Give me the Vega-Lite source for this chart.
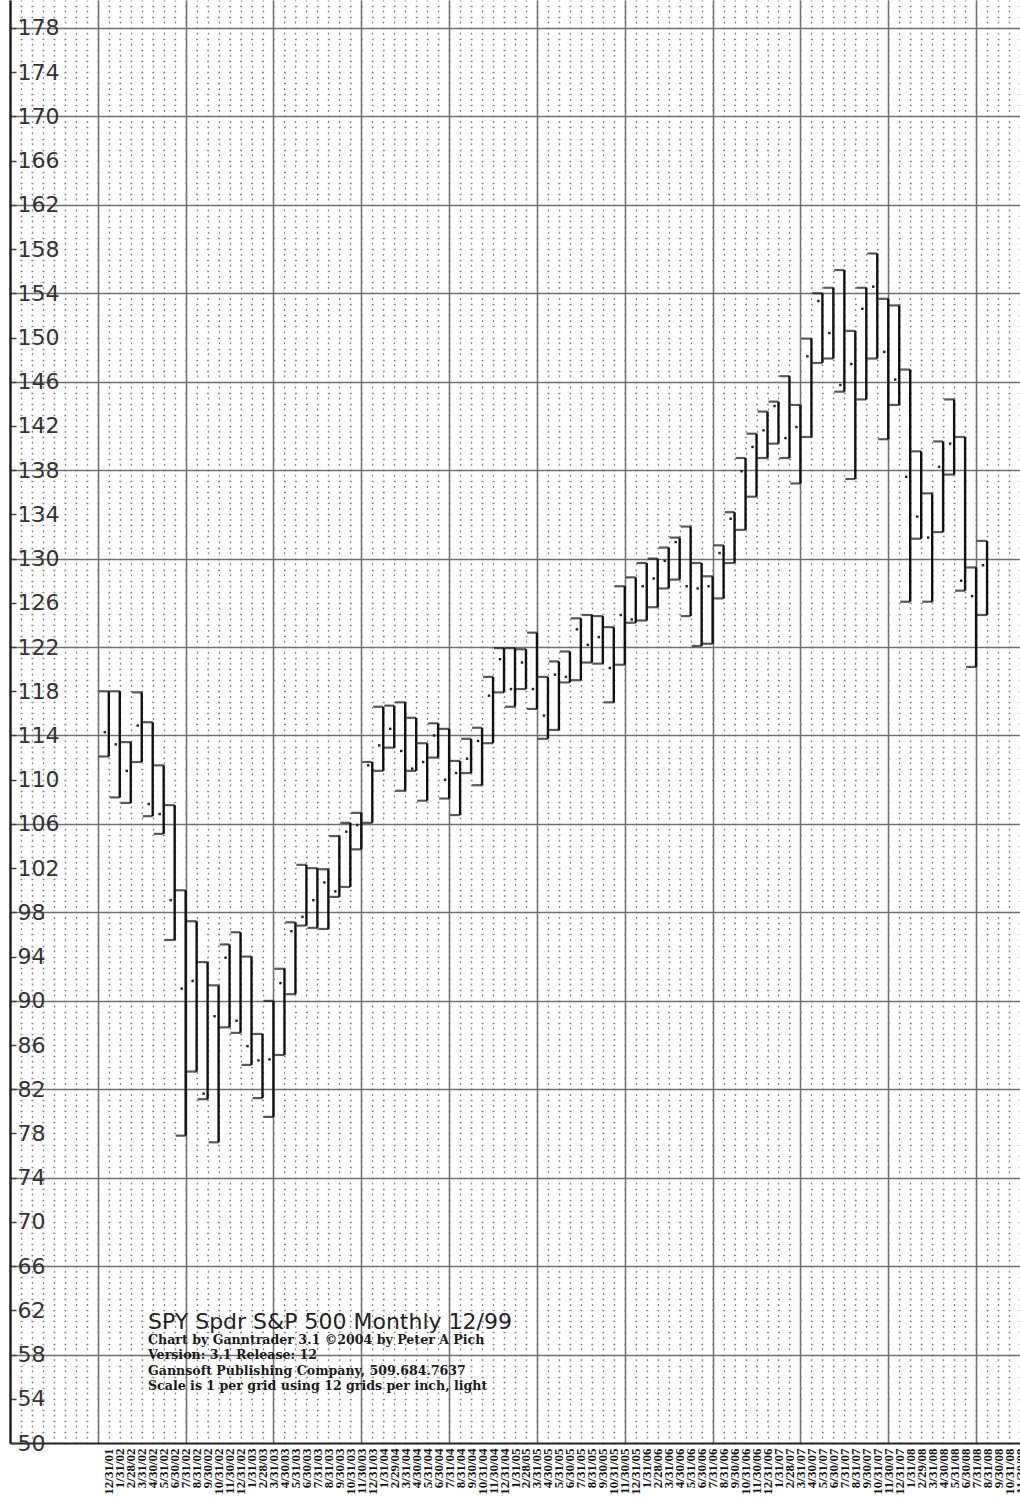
{
  "$schema": "https://vega.github.io/schema/vega-lite/v6.json",
  "width": 1010,
  "height": 1443,
  "autosize": {"type": "none"},
  "padding": {"left": 10, "top": 0, "right": 0, "bottom": 55},
  "background": "white",
  "config": {"view": {"stroke": null}},
  "title": {
    "text": "SPY Spdr S&P 500 Monthly 12/99",
    "subtitle": ["Chart by Ganntrader 3.1 ©2004 by Peter A Pich", "Version: 3.1 Release: 12", "Gannsoft Publishing Company, 509.684.7637", "Scale is 1 per grid using 12 grids per inch, light"],
    "orient": "top",
    "anchor": "start",
    "frame": "group",
    "offset": 0,
    "dx": 138,
    "dy": 1394,
    "font": "DejaVu Sans",
    "fontSize": 22,
    "fontWeight": "normal",
    "color": "#222",
    "subtitleFont": "DejaVu Serif",
    "subtitleFontSize": 12.6,
    "subtitleFontWeight": "bold",
    "subtitleColor": "#1a1a1a",
    "subtitleLineHeight": 15.5,
    "subtitlePadding": 0
  },
  "data": {"values": [
    {"m": 0, "month": "12/31/01", "high": 118.0, "low": 112.1, "close": 114.3},
    {"m": 1, "month": "1/31/02", "high": 118.0, "low": 108.4, "close": 113.2},
    {"m": 2, "month": "2/28/02", "high": 113.4, "low": 107.9, "close": 110.8},
    {"m": 3, "month": "3/31/02", "high": 117.9, "low": 111.6, "close": 114.9},
    {"m": 4, "month": "4/30/02", "high": 115.2, "low": 106.7, "close": 107.8},
    {"m": 5, "month": "5/31/02", "high": 111.3, "low": 105.1, "close": 106.9},
    {"m": 6, "month": "6/30/02", "high": 107.7, "low": 95.5, "close": 99.1},
    {"m": 7, "month": "7/31/02", "high": 100.0, "low": 77.8, "close": 91.1},
    {"m": 8, "month": "8/31/02", "high": 97.2, "low": 83.6, "close": 91.8},
    {"m": 9, "month": "9/30/02", "high": 93.5, "low": 81.1, "close": 81.6},
    {"m": 10, "month": "10/31/02", "high": 91.4, "low": 77.2, "close": 88.6},
    {"m": 11, "month": "11/30/02", "high": 95.1, "low": 87.6, "close": 93.9},
    {"m": 12, "month": "12/31/02", "high": 96.2, "low": 87.1, "close": 88.2},
    {"m": 13, "month": "1/31/03", "high": 94.0, "low": 84.2, "close": 85.9},
    {"m": 14, "month": "2/28/03", "high": 87.0, "low": 81.2, "close": 84.6},
    {"m": 15, "month": "3/31/03", "high": 90.0, "low": 79.5, "close": 84.7},
    {"m": 16, "month": "4/30/03", "high": 92.9, "low": 85.1, "close": 91.6},
    {"m": 17, "month": "5/31/03", "high": 97.1, "low": 90.6, "close": 96.3},
    {"m": 18, "month": "6/30/03", "high": 102.3, "low": 96.8, "close": 97.6},
    {"m": 19, "month": "7/31/03", "high": 102.0, "low": 96.6, "close": 99.1},
    {"m": 20, "month": "8/31/03", "high": 101.9, "low": 96.5, "close": 100.7},
    {"m": 21, "month": "9/30/03", "high": 104.9, "low": 99.4, "close": 99.9},
    {"m": 22, "month": "10/31/03", "high": 106.1, "low": 100.3, "close": 105.3},
    {"m": 23, "month": "11/30/03", "high": 107.0, "low": 103.7, "close": 105.9},
    {"m": 24, "month": "12/31/03", "high": 111.6, "low": 106.1, "close": 111.3},
    {"m": 25, "month": "1/31/04", "high": 116.6, "low": 110.8, "close": 113.1},
    {"m": 26, "month": "2/29/04", "high": 116.7, "low": 112.9, "close": 114.6},
    {"m": 27, "month": "3/31/04", "high": 117.0, "low": 109.0, "close": 112.6},
    {"m": 28, "month": "4/30/04", "high": 115.6, "low": 110.8, "close": 111.0},
    {"m": 29, "month": "5/31/04", "high": 113.3, "low": 108.1, "close": 111.6},
    {"m": 30, "month": "6/30/04", "high": 115.1, "low": 112.0, "close": 114.0},
    {"m": 31, "month": "7/31/04", "high": 114.6, "low": 108.3, "close": 110.0},
    {"m": 32, "month": "8/31/04", "high": 111.7, "low": 106.8, "close": 110.6},
    {"m": 33, "month": "9/30/04", "high": 113.7, "low": 110.6, "close": 111.9},
    {"m": 34, "month": "10/31/04", "high": 114.7, "low": 109.5, "close": 113.5},
    {"m": 35, "month": "11/30/04", "high": 119.3, "low": 113.3, "close": 117.6},
    {"m": 36, "month": "12/31/04", "high": 121.9, "low": 117.9, "close": 120.9},
    {"m": 37, "month": "1/31/05", "high": 121.9, "low": 116.6, "close": 118.2},
    {"m": 38, "month": "2/28/05", "high": 121.8, "low": 118.2, "close": 120.6},
    {"m": 39, "month": "3/31/05", "high": 123.3, "low": 116.4, "close": 118.2},
    {"m": 40, "month": "4/30/05", "high": 119.3, "low": 113.7, "close": 115.8},
    {"m": 41, "month": "5/31/05", "high": 120.7, "low": 114.5, "close": 119.5},
    {"m": 42, "month": "6/30/05", "high": 121.6, "low": 118.8, "close": 119.3},
    {"m": 43, "month": "7/31/05", "high": 124.6, "low": 119.0, "close": 123.6},
    {"m": 44, "month": "8/31/05", "high": 124.9, "low": 120.6, "close": 122.2},
    {"m": 45, "month": "9/30/05", "high": 124.8, "low": 120.5, "close": 122.9},
    {"m": 46, "month": "10/31/05", "high": 123.8, "low": 117.0, "close": 120.1},
    {"m": 47, "month": "11/30/05", "high": 127.5, "low": 120.4, "close": 124.9},
    {"m": 48, "month": "12/31/05", "high": 128.3, "low": 124.2, "close": 124.5},
    {"m": 49, "month": "1/31/06", "high": 129.6, "low": 124.4, "close": 127.5},
    {"m": 50, "month": "2/28/06", "high": 130.0, "low": 125.6, "close": 128.2},
    {"m": 51, "month": "3/31/06", "high": 131.0, "low": 127.3, "close": 129.8},
    {"m": 52, "month": "4/30/06", "high": 131.9, "low": 128.1, "close": 131.5},
    {"m": 53, "month": "5/31/06", "high": 132.9, "low": 124.8, "close": 127.5},
    {"m": 54, "month": "6/30/06", "high": 129.6, "low": 122.1, "close": 127.3},
    {"m": 55, "month": "7/31/06", "high": 128.4, "low": 122.3, "close": 127.5},
    {"m": 56, "month": "8/31/06", "high": 131.2, "low": 126.4, "close": 130.5},
    {"m": 57, "month": "9/30/06", "high": 134.2, "low": 129.6, "close": 133.6},
    {"m": 58, "month": "10/31/06", "high": 139.1, "low": 132.6, "close": 137.9},
    {"m": 59, "month": "11/30/06", "high": 141.3, "low": 135.6, "close": 140.1},
    {"m": 60, "month": "12/31/06", "high": 143.3, "low": 139.1, "close": 141.6},
    {"m": 61, "month": "1/31/07", "high": 144.2, "low": 140.4, "close": 143.8},
    {"m": 62, "month": "2/28/07", "high": 146.5, "low": 139.1, "close": 140.9},
    {"m": 63, "month": "3/31/07", "high": 143.9, "low": 136.8, "close": 141.9},
    {"m": 64, "month": "4/30/07", "high": 149.9, "low": 141.0, "close": 148.3},
    {"m": 65, "month": "5/31/07", "high": 154.0, "low": 147.7, "close": 153.3},
    {"m": 66, "month": "6/30/07", "high": 154.5, "low": 148.1, "close": 150.4},
    {"m": 67, "month": "7/31/07", "high": 156.1, "low": 145.1, "close": 145.7},
    {"m": 68, "month": "8/31/07", "high": 150.6, "low": 137.2, "close": 147.6},
    {"m": 69, "month": "9/30/07", "high": 154.5, "low": 144.4, "close": 152.6},
    {"m": 70, "month": "10/31/07", "high": 157.6, "low": 148.1, "close": 154.6},
    {"m": 71, "month": "11/30/07", "high": 153.5, "low": 140.8, "close": 148.7},
    {"m": 72, "month": "12/31/07", "high": 152.9, "low": 143.9, "close": 146.2},
    {"m": 73, "month": "1/31/08", "high": 147.1, "low": 126.1, "close": 137.4},
    {"m": 74, "month": "2/29/08", "high": 139.7, "low": 131.8, "close": 133.8},
    {"m": 75, "month": "3/31/08", "high": 135.9, "low": 126.1, "close": 131.9},
    {"m": 76, "month": "4/30/08", "high": 140.6, "low": 132.4, "close": 138.3},
    {"m": 77, "month": "5/31/08", "high": 144.4, "low": 137.6, "close": 140.4},
    {"m": 78, "month": "6/30/08", "high": 141.0, "low": 127.1, "close": 128.0},
    {"m": 79, "month": "7/31/08", "high": 129.2, "low": 120.2, "close": 126.6},
    {"m": 80, "month": "8/31/08", "high": 131.6, "low": 124.9, "close": 129.4}
  ]},
  "resolve": {"axis": {"x": "independent", "y": "independent"}},
  "layer": [
    {
      "mark": {"type": "point", "opacity": 0},
      "encoding": {
        "x": {"field": "m", "type": "quantitative",
          "scale": {"domain": [-9, 83], "nice": false, "zero": false},
          "axis": {"orient": "bottom", "values": [-9,-8,-7,-6,-5,-4,-3,-2,-1,0,1,2,3,4,5,6,7,8,9,10,11,12,13,14,15,16,17,18,19,20,21,22,23,24,25,26,27,28,29,30,31,32,33,34,35,36,37,38,39,40,41,42,43,44,45,46,47,48,49,50,51,52,53,54,55,56,57,58,59,60,61,62,63,64,65,66,67,68,69,70,71,72,73,74,75,76,77,78,79,80,81,82,83],
            "labels": false, "ticks": false, "domain": false, "title": null,
            "grid": true, "gridColor": "#858585", "gridWidth": 1.3, "gridDash": [2, 9.055], "gridDashOffset": 1}},
        "y": {"field": "close", "type": "quantitative",
          "scale": {"domain": [50, 180.53], "nice": false, "zero": false},
          "axis": {"orient": "left", "values": [50,51,52,53,54,55,56,57,58,59,60,61,62,63,64,65,66,67,68,69,70,71,72,73,74,75,76,77,78,79,80,81,82,83,84,85,86,87,88,89,90,91,92,93,94,95,96,97,98,99,100,101,102,103,104,105,106,107,108,109,110,111,112,113,114,115,116,117,118,119,120,121,122,123,124,125,126,127,128,129,130,131,132,133,134,135,136,137,138,139,140,141,142,143,144,145,146,147,148,149,150,151,152,153,154,155,156,157,158,159,160,161,162,163,164,165,166,167,168,169,170,171,172,173,174,175,176,177,178,179,180],
            "labels": false, "ticks": false, "domain": false, "title": null,
            "grid": true, "gridColor": "#858585", "gridWidth": 1.3, "gridDash": [2, 8.978], "gridDashOffset": 1}}
      }
    },
    {
      "mark": {"type": "point", "opacity": 0},
      "encoding": {
        "x": {"field": "m", "type": "quantitative",
          "scale": {"domain": [-9, 83], "nice": false, "zero": false},
          "axis": {"orient": "bottom", "values": [-1, 7, 15, 23, 31, 39, 47, 55, 63, 71, 79],
            "labels": false, "ticks": false, "domain": false, "title": null,
            "grid": true, "gridColor": "#707070", "gridWidth": 1.5}},
        "y": {"field": "close", "type": "quantitative",
          "scale": {"domain": [50, 180.53], "nice": false, "zero": false},
          "axis": {"orient": "left", "values": [58, 66, 74, 82, 90, 98, 106, 114, 122, 130, 138, 146, 154, 162, 170, 178],
            "labels": false, "ticks": false, "domain": false, "title": null,
            "grid": true, "gridColor": "#707070", "gridWidth": 1.5}}
      }
    },
    {
      "mark": {"type": "rule", "color": "#111111", "strokeWidth": 2.4},
      "encoding": {
        "x": {"field": "m", "type": "quantitative",
          "scale": {"domain": [-9, 83], "nice": false, "zero": false},
          "axis": {"orient": "bottom", "values": [0,1,2,3,4,5,6,7,8,9,10,11,12,13,14,15,16,17,18,19,20,21,22,23,24,25,26,27,28,29,30,31,32,33,34,35,36,37,38,39,40,41,42,43,44,45,46,47,48,49,50,51,52,53,54,55,56,57,58,59,60,61,62,63,64,65,66,67,68,69,70,71,72,73,74,75,76,77,78,79,80,81,82,83],
            "labelExpr": "timeFormat(datetime(2002, datum.value, 0), '%-m/%d/%y')",
            "labelAngle": 270, "labelAlign": "right", "labelBaseline": "middle",
            "labelFont": "Liberation Serif", "labelFontSize": 13, "labelFontWeight": "bold", "labelColor": "#111",
            "labelPadding": 5, "labelOverlap": false, "labelBound": false, "labelFlush": false,
            "ticks": false, "grid": false, "title": null,
            "domain": true, "domainColor": "#222", "domainWidth": 2}},
        "y": {"field": "low", "type": "quantitative",
          "scale": {"domain": [50, 180.53], "nice": false, "zero": false},
          "axis": {"orient": "left", "values": [50,54,58,62,66,70,74,78,82,86,90,94,98,102,106,110,114,118,122,126,130,134,138,142,146,150,154,158,162,166,170,174,178],
            "labelFont": "DejaVu Sans", "labelFontSize": 22, "labelColor": "#333",
            "labelAlign": "left", "labelBaseline": "middle", "labelPadding": -1,
            "labelOverlap": false, "labelBound": false, "labelFlush": false,
            "ticks": true, "tickSize": -6, "tickColor": "#444", "tickWidth": 1.5,
            "grid": false, "title": null,
            "domain": true, "domainColor": "#222", "domainWidth": 2.5}},
        "y2": {"field": "high"}
      }
    },
    {
      "mark": {"type": "tick", "orient": "horizontal", "size": 10, "thickness": 2.2, "xOffset": -5, "color": "#111111"},
      "encoding": {
        "x": {"field": "m", "type": "quantitative", "axis": null},
        "y": {"field": "high", "type": "quantitative", "axis": null}
      }
    },
    {
      "mark": {"type": "tick", "orient": "horizontal", "size": 10, "thickness": 2.2, "xOffset": -5, "color": "#111111"},
      "encoding": {
        "x": {"field": "m", "type": "quantitative", "axis": null},
        "y": {"field": "low", "type": "quantitative", "axis": null}
      }
    },
    {
      "mark": {"type": "square", "size": 6, "filled": true, "opacity": 1, "xOffset": -4, "color": "#222222"},
      "encoding": {
        "x": {"field": "m", "type": "quantitative", "axis": null},
        "y": {"field": "close", "type": "quantitative", "axis": null}
      }
    }
  ]
}
